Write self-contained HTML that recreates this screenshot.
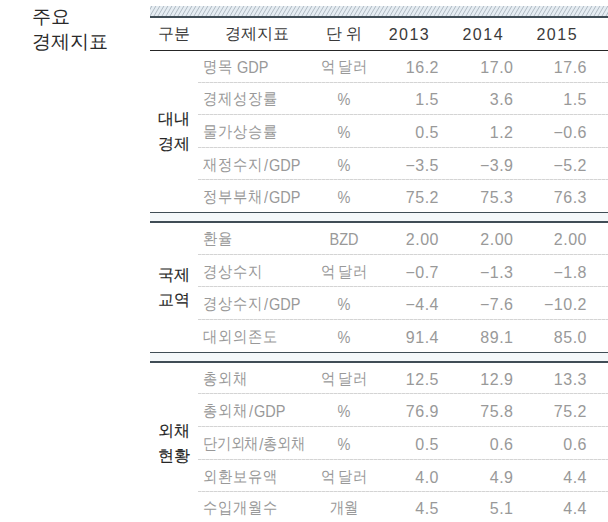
<!DOCTYPE html><html><head><meta charset="utf-8"><style>
html,body{margin:0;padding:0;background:#fff;}
body{width:608px;height:522px;overflow:hidden;position:relative;font-family:"Liberation Sans",sans-serif;}
.a{position:absolute;white-space:nowrap;}
.title{left:32px;top:3.5px;font-size:19px;line-height:25.5px;color:#2a2a2a;}
.band{left:150px;top:6px;width:470px;height:10px;}
.bandline{left:150px;top:16px;width:470px;height:2px;background:#404d56;}
.hline{left:150px;top:50px;width:470px;height:1px;background:#262626;}
.thin{left:150px;width:470px;height:1px;background:#404d56;}
.thick{left:150px;width:470px;height:2px;background:#404d56;}
.gap{left:150px;width:470px;background:#f4f8fa;}
.dot{left:198px;width:420px;height:1px;background:repeating-linear-gradient(90deg,#d4d4d4 0,#d4d4d4 3px,#e6e6e6 3px,#e6e6e6 4px);}
.hd{font-size:16px;color:#3a3a3a;line-height:20px;}
.yr{letter-spacing:1.5px;}
.c{transform:translateX(-50%);}
.r{transform:translateX(-100%);}
.t{color:#999999;line-height:20px;height:20px;}
.t .k{display:inline-block;font-size:14.6px;transform:translateY(-1px) scaleY(1.12);}
.t .sl{margin:0 1px;}
.t .sp{font-size:14.5px;}
.t .sp2{font-size:14px;}
.t .l{display:inline-block;font-size:14.5px;transform:scaleY(1.2);}
.t .d{display:inline-block;letter-spacing:0.5px;font-size:16px;transform:translateY(1px);}
.g{font-size:16px;color:#262626;line-height:25px;-webkit-text-stroke:0.15px #262626;}
</style></head><body>

<div class="a title">주요<br>경제지표</div>
<svg class="a band" width="470" height="10"><rect width="470" height="10" fill="#e6edf3"/><path d="M-12.0 10L-6.1 0M-8.0 10L-2.1 0M-4.0 10L1.9 0M0.0 10L5.9 0M4.0 10L9.9 0M8.0 10L13.9 0M12.0 10L17.9 0M16.0 10L21.9 0M20.0 10L25.9 0M24.0 10L29.9 0M28.0 10L33.9 0M32.0 10L37.9 0M36.0 10L41.9 0M40.0 10L45.9 0M44.0 10L49.9 0M48.0 10L53.9 0M52.0 10L57.9 0M56.0 10L61.9 0M60.0 10L65.9 0M64.0 10L69.9 0M68.0 10L73.9 0M72.0 10L77.9 0M76.0 10L81.9 0M80.0 10L85.9 0M84.0 10L89.9 0M88.0 10L93.9 0M92.0 10L97.9 0M96.0 10L101.9 0M100.0 10L105.9 0M104.0 10L109.9 0M108.0 10L113.9 0M112.0 10L117.9 0M116.0 10L121.9 0M120.0 10L125.9 0M124.0 10L129.9 0M128.0 10L133.9 0M132.0 10L137.9 0M136.0 10L141.9 0M140.0 10L145.9 0M144.0 10L149.9 0M148.0 10L153.9 0M152.0 10L157.9 0M156.0 10L161.9 0M160.0 10L165.9 0M164.0 10L169.9 0M168.0 10L173.9 0M172.0 10L177.9 0M176.0 10L181.9 0M180.0 10L185.9 0M184.0 10L189.9 0M188.0 10L193.9 0M192.0 10L197.9 0M196.0 10L201.9 0M200.0 10L205.9 0M204.0 10L209.9 0M208.0 10L213.9 0M212.0 10L217.9 0M216.0 10L221.9 0M220.0 10L225.9 0M224.0 10L229.9 0M228.0 10L233.9 0M232.0 10L237.9 0M236.0 10L241.9 0M240.0 10L245.9 0M244.0 10L249.9 0M248.0 10L253.9 0M252.0 10L257.9 0M256.0 10L261.9 0M260.0 10L265.9 0M264.0 10L269.9 0M268.0 10L273.9 0M272.0 10L277.9 0M276.0 10L281.9 0M280.0 10L285.9 0M284.0 10L289.9 0M288.0 10L293.9 0M292.0 10L297.9 0M296.0 10L301.9 0M300.0 10L305.9 0M304.0 10L309.9 0M308.0 10L313.9 0M312.0 10L317.9 0M316.0 10L321.9 0M320.0 10L325.9 0M324.0 10L329.9 0M328.0 10L333.9 0M332.0 10L337.9 0M336.0 10L341.9 0M340.0 10L345.9 0M344.0 10L349.9 0M348.0 10L353.9 0M352.0 10L357.9 0M356.0 10L361.9 0M360.0 10L365.9 0M364.0 10L369.9 0M368.0 10L373.9 0M372.0 10L377.9 0M376.0 10L381.9 0M380.0 10L385.9 0M384.0 10L389.9 0M388.0 10L393.9 0M392.0 10L397.9 0M396.0 10L401.9 0M400.0 10L405.9 0M404.0 10L409.9 0M408.0 10L413.9 0M412.0 10L417.9 0M416.0 10L421.9 0M420.0 10L425.9 0M424.0 10L429.9 0M428.0 10L433.9 0M432.0 10L437.9 0M436.0 10L441.9 0M440.0 10L445.9 0M444.0 10L449.9 0M448.0 10L453.9 0M452.0 10L457.9 0M456.0 10L461.9 0M460.0 10L465.9 0M464.0 10L469.9 0M468.0 10L473.9 0M472.0 10L477.9 0M476.0 10L481.9 0" stroke="#9aa5af" stroke-width="0.7" fill="none"/></svg>
<div class="a bandline"></div>
<div class="a hd c" style="left:173.5px;top:23.8px">구분</div>
<div class="a hd c" style="left:256.7px;top:23.8px">경제지표</div>
<div class="a hd c" style="left:344px;top:23.8px">단 위</div>
<div class="a hd c yr" style="left:409.45px;top:25px">2013</div>
<div class="a hd c yr" style="left:483.25px;top:25px">2014</div>
<div class="a hd c yr" style="left:557.25px;top:25px">2015</div>
<div class="a hline"></div>
<div class="a g c" style="left:173.7px;top:106.30px">대내<br>경제</div>
<div class="a dot" style="top:82px"></div>
<div class="a dot" style="top:114px"></div>
<div class="a dot" style="top:147px"></div>
<div class="a dot" style="top:179px"></div>
<div class="a t" style="left:203px;top:56.85px"><span class="k">명목</span><span class="sp"> </span><span class="l">GDP</span></div>
<div class="a t c" style="left:344px;top:56.85px;letter-spacing:-0.6px"><span class="k">억</span><span class="sp2"> </span><span class="k">달러</span></div>
<div class="a t r" style="left:439.0px;top:56.85px"><span class="d">16.2</span></div>
<div class="a t r" style="left:513.5px;top:56.85px"><span class="d">17.0</span></div>
<div class="a t r" style="left:587.0px;top:56.85px"><span class="d">17.6</span></div>
<div class="a t" style="left:203px;top:89.25px"><span class="k">경제성장률</span></div>
<div class="a t c" style="left:344px;top:89.25px"><span class="l">%</span></div>
<div class="a t r" style="left:439.0px;top:89.25px"><span class="d">1.5</span></div>
<div class="a t r" style="left:513.5px;top:89.25px"><span class="d">3.6</span></div>
<div class="a t r" style="left:587.0px;top:89.25px"><span class="d">1.5</span></div>
<div class="a t" style="left:203px;top:121.90px"><span class="k">물가상승률</span></div>
<div class="a t c" style="left:344px;top:121.90px"><span class="l">%</span></div>
<div class="a t r" style="left:439.0px;top:121.90px"><span class="d">0.5</span></div>
<div class="a t r" style="left:513.5px;top:121.90px"><span class="d">1.2</span></div>
<div class="a t r" style="left:587.0px;top:121.90px"><span class="d">−0.6</span></div>
<div class="a t" style="left:203px;top:154.70px"><span class="k">재정수지</span><span class="l"><span class="sl">/</span>GDP</span></div>
<div class="a t c" style="left:344px;top:154.70px"><span class="l">%</span></div>
<div class="a t r" style="left:439.0px;top:154.70px"><span class="d">−3.5</span></div>
<div class="a t r" style="left:513.5px;top:154.70px"><span class="d">−3.9</span></div>
<div class="a t r" style="left:587.0px;top:154.70px"><span class="d">−5.2</span></div>
<div class="a t" style="left:203px;top:187.00px"><span class="k">정부부채</span><span class="l"><span class="sl">/</span>GDP</span></div>
<div class="a t c" style="left:344px;top:187.00px"><span class="l">%</span></div>
<div class="a t r" style="left:439.0px;top:187.00px"><span class="d">75.2</span></div>
<div class="a t r" style="left:513.5px;top:187.00px"><span class="d">75.3</span></div>
<div class="a t r" style="left:587.0px;top:187.00px"><span class="d">76.3</span></div>
<div class="a g c" style="left:173.7px;top:262.20px">국제<br>교역</div>
<div class="a dot" style="top:254px"></div>
<div class="a dot" style="top:286px"></div>
<div class="a dot" style="top:319px"></div>
<div class="a t" style="left:203px;top:229.30px"><span class="k">환율</span></div>
<div class="a t c" style="left:344px;top:229.30px"><span class="l">BZD</span></div>
<div class="a t r" style="left:439.0px;top:229.30px"><span class="d">2.00</span></div>
<div class="a t r" style="left:513.5px;top:229.30px"><span class="d">2.00</span></div>
<div class="a t r" style="left:587.0px;top:229.30px"><span class="d">2.00</span></div>
<div class="a t" style="left:203px;top:262.00px"><span class="k">경상수지</span></div>
<div class="a t c" style="left:344px;top:262.00px;letter-spacing:-0.6px"><span class="k">억</span><span class="sp2"> </span><span class="k">달러</span></div>
<div class="a t r" style="left:439.0px;top:262.00px"><span class="d">−0.7</span></div>
<div class="a t r" style="left:513.5px;top:262.00px"><span class="d">−1.3</span></div>
<div class="a t r" style="left:587.0px;top:262.00px"><span class="d">−1.8</span></div>
<div class="a t" style="left:203px;top:294.40px"><span class="k">경상수지</span><span class="l"><span class="sl">/</span>GDP</span></div>
<div class="a t c" style="left:344px;top:294.40px"><span class="l">%</span></div>
<div class="a t r" style="left:439.0px;top:294.40px"><span class="d">−4.4</span></div>
<div class="a t r" style="left:513.5px;top:294.40px"><span class="d">−7.6</span></div>
<div class="a t r" style="left:587.0px;top:294.40px"><span class="d">−10.2</span></div>
<div class="a t" style="left:203px;top:326.80px"><span class="k">대외의존도</span></div>
<div class="a t c" style="left:344px;top:326.80px"><span class="l">%</span></div>
<div class="a t r" style="left:439.0px;top:326.80px"><span class="d">91.4</span></div>
<div class="a t r" style="left:513.5px;top:326.80px"><span class="d">89.1</span></div>
<div class="a t r" style="left:587.0px;top:326.80px"><span class="d">85.0</span></div>
<div class="a g c" style="left:173.7px;top:417.50px">외채<br>현황</div>
<div class="a dot" style="top:393px"></div>
<div class="a dot" style="top:426px"></div>
<div class="a dot" style="top:459px"></div>
<div class="a dot" style="top:491px"></div>
<div class="a t" style="left:203px;top:368.70px"><span class="k">총외채</span></div>
<div class="a t c" style="left:344px;top:368.70px;letter-spacing:-0.6px"><span class="k">억</span><span class="sp2"> </span><span class="k">달러</span></div>
<div class="a t r" style="left:439.0px;top:368.70px"><span class="d">12.5</span></div>
<div class="a t r" style="left:513.5px;top:368.70px"><span class="d">12.9</span></div>
<div class="a t r" style="left:587.0px;top:368.70px"><span class="d">13.3</span></div>
<div class="a t" style="left:203px;top:401.10px"><span class="k">총외채</span><span class="l"><span class="sl">/</span>GDP</span></div>
<div class="a t c" style="left:344px;top:401.10px"><span class="l">%</span></div>
<div class="a t r" style="left:439.0px;top:401.10px"><span class="d">76.9</span></div>
<div class="a t r" style="left:513.5px;top:401.10px"><span class="d">75.8</span></div>
<div class="a t r" style="left:587.0px;top:401.10px"><span class="d">75.2</span></div>
<div class="a t" style="left:203px;top:433.70px;letter-spacing:-1.2px"><span class="k">단기외채</span><span class="l"><span class="sl">/</span></span><span class="k">총외채</span></div>
<div class="a t c" style="left:344px;top:433.70px"><span class="l">%</span></div>
<div class="a t r" style="left:439.0px;top:433.70px"><span class="d">0.5</span></div>
<div class="a t r" style="left:513.5px;top:433.70px"><span class="d">0.6</span></div>
<div class="a t r" style="left:587.0px;top:433.70px"><span class="d">0.6</span></div>
<div class="a t" style="left:203px;top:466.80px"><span class="k">외환보유액</span></div>
<div class="a t c" style="left:344px;top:466.80px;letter-spacing:-0.6px"><span class="k">억</span><span class="sp2"> </span><span class="k">달러</span></div>
<div class="a t r" style="left:439.0px;top:466.80px"><span class="d">4.0</span></div>
<div class="a t r" style="left:513.5px;top:466.80px"><span class="d">4.9</span></div>
<div class="a t r" style="left:587.0px;top:466.80px"><span class="d">4.4</span></div>
<div class="a t" style="left:203px;top:498.00px"><span class="k">수입개월수</span></div>
<div class="a t c" style="left:344px;top:498.00px;letter-spacing:-0.6px"><span class="k">개월</span></div>
<div class="a t r" style="left:439.0px;top:498.00px"><span class="d">4.5</span></div>
<div class="a t r" style="left:513.5px;top:498.00px"><span class="d">5.1</span></div>
<div class="a t r" style="left:587.0px;top:498.00px"><span class="d">4.4</span></div>
<div class="a thin" style="top:212px"></div><div class="a gap" style="top:213px;height:8px"></div><div class="a thick" style="top:221px"></div>
<div class="a thin" style="top:352px"></div><div class="a gap" style="top:353px;height:8px"></div><div class="a thick" style="top:361px"></div>
</body></html>
